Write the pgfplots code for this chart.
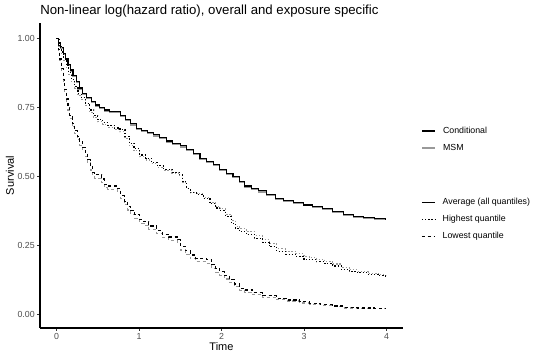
\documentclass[border=0pt]{standalone}
\usepackage{fontspec}
\setmainfont{Liberation Sans}
\usepackage{pgfplots}
\pgfplotsset{compat=1.18}
\usepackage{pgfplotstable}
\definecolor{msm}{RGB}{153,153,153}
\definecolor{tickgray}{RGB}{77,77,77}
\definecolor{tickmark}{RGB}{51,51,51}

\pgfplotstableread{
t c m
0 1.000 1.000
0.02 0.985 0.984
0.05 0.965 0.963
0.08 0.945 0.942
0.11 0.925 0.922
0.14 0.905 0.902
0.17 0.885 0.881
0.20 0.865 0.861
0.24 0.843 0.839
0.28 0.820 0.816
0.32 0.800 0.796
0.36 0.785 0.781
0.42 0.770 0.766
0.47 0.758 0.754
0.52 0.748 0.744
0.58 0.740 0.736
0.64 0.735 0.731
0.78 0.720 0.716
0.84 0.705 0.701
0.90 0.690 0.686
0.97 0.674 0.670
1.03 0.665 0.661
1.10 0.660 0.656
1.18 0.650 0.646
1.25 0.640 0.636
1.33 0.628 0.624
1.41 0.620 0.616
1.50 0.610 0.606
1.58 0.598 0.594
1.66 0.582 0.578
1.74 0.565 0.561
1.82 0.553 0.549
1.90 0.543 0.539
1.98 0.525 0.521
2.06 0.510 0.506
2.14 0.499 0.495
2.22 0.480 0.476
2.28 0.465 0.461
2.36 0.456 0.452
2.45 0.447 0.443
2.55 0.435 0.431
2.65 0.420 0.417
2.75 0.413 0.410
2.87 0.405 0.402
2.99 0.396 0.393
3.10 0.390 0.387
3.22 0.382 0.379
3.35 0.372 0.369
3.48 0.360 0.357
3.60 0.354 0.351
3.72 0.350 0.347
3.85 0.347 0.344
3.99 0.342 0.340
}\avgdata

\pgfplotstableread{
t c m
0 1.000 1.000
0.03 0.975 0.970
0.06 0.950 0.944
0.09 0.925 0.918
0.12 0.900 0.893
0.15 0.875 0.868
0.18 0.850 0.843
0.22 0.825 0.818
0.26 0.800 0.793
0.30 0.785 0.777
0.35 0.765 0.757
0.40 0.740 0.732
0.45 0.720 0.712
0.50 0.705 0.697
0.56 0.695 0.688
0.62 0.685 0.678
0.70 0.675 0.668
0.77 0.668 0.661
0.83 0.645 0.638
0.88 0.620 0.613
0.94 0.600 0.593
1.01 0.577 0.571
1.08 0.565 0.559
1.15 0.550 0.545
1.22 0.538 0.533
1.30 0.525 0.521
1.40 0.515 0.512
1.49 0.505 0.503
1.53 0.480 0.479
1.58 0.455 0.455
1.62 0.440 0.441
1.70 0.435 0.437
1.78 0.420 0.424
1.86 0.400 0.405
1.93 0.385 0.391
1.98 0.375 0.382
2.05 0.355 0.363
2.12 0.330 0.339
2.17 0.310 0.319
2.22 0.300 0.310
2.30 0.290 0.300
2.40 0.275 0.285
2.50 0.260 0.270
2.58 0.245 0.255
2.67 0.228 0.238
2.78 0.218 0.228
2.90 0.210 0.219
3.00 0.200 0.209
3.07 0.197 0.206
3.15 0.190 0.199
3.25 0.183 0.191
3.35 0.175 0.182
3.45 0.162 0.169
3.55 0.155 0.161
3.65 0.150 0.155
3.78 0.145 0.149
3.90 0.140 0.143
3.99 0.136 0.138
}\highdata

\pgfplotstableread{
t c m
0 1.000 1.000
0.02 0.960 0.955
0.04 0.925 0.918
0.06 0.890 0.882
0.08 0.850 0.841
0.10 0.815 0.805
0.12 0.780 0.770
0.14 0.750 0.740
0.16 0.720 0.709
0.19 0.690 0.679
0.22 0.665 0.654
0.25 0.645 0.633
0.28 0.625 0.613
0.32 0.605 0.593
0.35 0.585 0.573
0.38 0.560 0.548
0.41 0.535 0.523
0.44 0.515 0.503
0.46 0.505 0.493
0.55 0.490 0.478
0.58 0.470 0.458
0.62 0.465 0.453
0.74 0.455 0.443
0.78 0.430 0.418
0.82 0.410 0.398
0.86 0.390 0.378
0.90 0.375 0.363
0.95 0.360 0.348
1.01 0.342 0.330
1.06 0.335 0.323
1.12 0.320 0.308
1.21 0.305 0.293
1.28 0.290 0.278
1.36 0.280 0.268
1.47 0.270 0.257
1.50 0.246 0.233
1.56 0.230 0.217
1.62 0.215 0.202
1.69 0.203 0.190
1.82 0.198 0.185
1.88 0.180 0.167
1.93 0.165 0.152
1.98 0.154 0.141
2.04 0.140 0.128
2.10 0.125 0.114
2.16 0.110 0.100
2.22 0.095 0.086
2.28 0.088 0.080
2.38 0.078 0.071
2.50 0.068 0.062
2.67 0.058 0.053
2.80 0.052 0.048
2.95 0.045 0.041
3.07 0.040 0.037
3.20 0.035 0.032
3.35 0.030 0.027
3.48 0.025 0.023
3.65 0.023 0.021
3.85 0.022 0.020
3.99 0.022 0.020
}\lowdata

\pgfplotsset{
  cond/.style={black, line width=0.85pt, const plot},
  msmst/.style={msm, line width=0.85pt, const plot},
  dotst/.style={dash pattern=on 1pt off 1.4pt},
  dashst/.style={dash pattern=on 2.4pt off 2pt},
  legfont/.style={font=\fontsize{6.6}{7.9}\selectfont},
}

\begin{document}
\begin{tikzpicture}
\path[use as bounding box] (0,0) rectangle (405pt,270pt);
\begin{axis}[
  at={(30pt,24pt)}, anchor=south west,
  scale only axis, width=272.25pt, height=228.75pt,
  xmin=-0.2, xmax=4.2, ymin=-0.0496, ymax=1.0553,
  axis lines=left, axis line style={-, line width=0.8pt, black},
  xtick={0,1,2,3,4}, xticklabels={0,1,2,3,4},
  ytick={0,0.25,0.5,0.75,1}, yticklabels={0.00,0.25,0.50,0.75,1.00},
  tick align=outside, major tick length=2.06pt,
  tick style={tickmark, line width=0.45pt},
  tick label style={font=\fontsize{6.6}{7.9}\selectfont, text=tickgray},
  yticklabel style={inner sep=0pt, anchor=east, xshift=-1.7pt},
  xticklabel style={inner sep=0pt, anchor=north, yshift=-1.5pt},
  /pgf/number format/assume math mode=true,
  xlabel={Time},
  xlabel style={at={(axis description cs:0.5,0)}, anchor=center, yshift=-14.25pt, inner sep=0pt, font=\fontsize{8.25}{9.9}\selectfont},
  clip=false,
  legend cell align=left,
  legend image code/.code={\draw[#1, line width=1.1pt, solid] (0pt,0pt) -- (10pt,0pt);},
  legend style={at={(1.0496,0.618)}, anchor=west, draw=none, fill=none, legfont, inner sep=0pt, row sep=6.25pt, column sep=5.25pt, nodes={inner sep=0pt, text height=5pt, text depth=1.5pt}},
]
\addplot[msmst, forget plot] table[x=t, y=m] {\avgdata};
\addplot[cond, forget plot] table[x=t, y=c] {\avgdata};
\addplot[msmst, dotst, forget plot] table[x=t, y=m] {\highdata};
\addplot[cond, dotst, forget plot] table[x=t, y=c] {\highdata};
\addplot[msmst, dashst, forget plot] table[x=t, y=m] {\lowdata};
\addplot[cond, dashst, forget plot] table[x=t, y=c] {\lowdata};
\addlegendimage{black}
\addlegendentry{Conditional}
\addlegendimage{msm}
\addlegendentry{MSM}
\node[anchor=base west, inner sep=0pt, yshift=6pt, font=\fontsize{9.9}{11.9}\selectfont] at (rel axis cs:0,1) {Non-linear log(hazard ratio), overall and exposure specific};
\node[xshift=-22.5pt, rotate=90, anchor=center, inner sep=0pt, font=\fontsize{8.25}{9.9}\selectfont] at (rel axis cs:0,0.5) {Survival};
\end{axis}
\begin{axis}[
  at={(30pt,24pt)}, anchor=south west,
  scale only axis, width=272.25pt, height=228.75pt,
  xmin=0, xmax=1, ymin=0, ymax=1, hide axis,
  legend cell align=left,
  legend image code/.code={\draw[#1, line width=0.8pt] (0pt,0pt) -- (10pt,0pt);},
  legend style={at={(1.0496,0.357)}, anchor=west, draw=none, fill=none, legfont, inner sep=0pt, row sep=6.25pt, column sep=5.25pt, nodes={inner sep=0pt, text height=5pt, text depth=1.5pt}},
]
\addlegendimage{black}
\addlegendentry{Average (all quantiles)}
\addlegendimage{black, dotst}
\addlegendentry{Highest quantile}
\addlegendimage{black, dashst}
\addlegendentry{Lowest quantile}
\end{axis}
\end{tikzpicture}
\end{document}
